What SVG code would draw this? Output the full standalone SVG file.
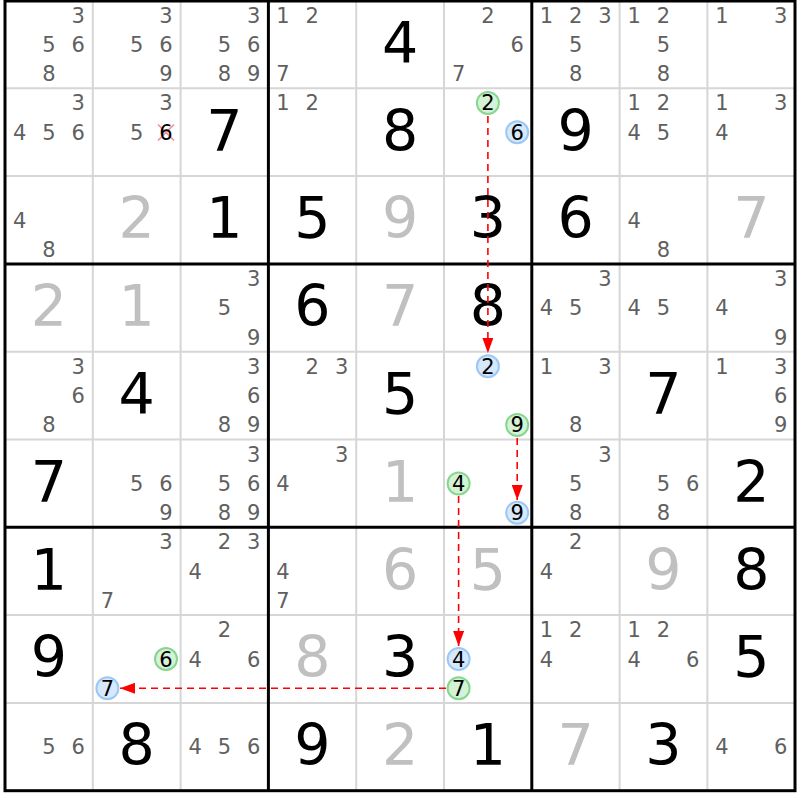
<svg xmlns="http://www.w3.org/2000/svg" width="800" height="800" viewBox="0 0 800 800">
<defs>
<style>
text{font-family:"DejaVu Sans","Liberation Sans",sans-serif;text-anchor:middle}
.c{font-size:21px;fill:#606060}
.g{font-size:57px;fill:#000}
.s{font-size:57px;fill:#c0c0c0}
.k{font-size:21px;fill:#000}
.thin{stroke:#d6d6d6;stroke-width:2}
.thick{stroke:#000;stroke-width:3}
.gc{fill:#d4f3d6;stroke:#86d690;stroke-width:2}
.bc{fill:#d6e8fb;stroke:#9cc8f3;stroke-width:2}
.lk{stroke:#ff0000;stroke-width:1.6;stroke-dasharray:7,5;fill:none}
.x{stroke:#f09090;stroke-width:1.6}
</style>
<marker id="ah" markerUnits="userSpaceOnUse" markerWidth="15" markerHeight="11" refX="15" refY="5.5" orient="auto">
<path d="M0,0 L15,5.5 L0,11 z" fill="#ff0000"/>
</marker>
</defs>
<rect width="800" height="800" fill="#fff"/>
<g id="grid">
<g class="thin">
<line x1="92.8" y1="0" x2="92.8" y2="791"/><line x1="180.6" y1="0" x2="180.6" y2="791"/>
<line x1="356.2" y1="0" x2="356.2" y2="791"/><line x1="444" y1="0" x2="444" y2="791"/>
<line x1="619.6" y1="0" x2="619.6" y2="791"/><line x1="707.4" y1="0" x2="707.4" y2="791"/>
<line x1="5" y1="88.3" x2="795" y2="88.3"/><line x1="5" y1="176.1" x2="795" y2="176.1"/>
<line x1="5" y1="351.7" x2="795" y2="351.7"/><line x1="5" y1="439.5" x2="795" y2="439.5"/>
<line x1="5" y1="615.1" x2="795" y2="615.1"/><line x1="5" y1="702.9" x2="795" y2="702.9"/>
</g>
<g class="thick">
<line x1="268.4" y1="0" x2="268.4" y2="791"/><line x1="531.8" y1="0" x2="531.8" y2="791"/>
<line x1="5" y1="263.9" x2="795" y2="263.9"/><line x1="5" y1="527.3" x2="795" y2="527.3"/>
<rect x="5" y="1" width="790" height="789.7" fill="none"/>
</g>
</g>
<g id="cells">
<g id="r1c1"><text class="c" x="78.2" y="22.6">3</text><text class="c" x="48.9" y="51.9">5</text><text class="c" x="78.2" y="51.9">6</text><text class="c" x="48.9" y="81.2">8</text></g>
<g id="r1c2"><text class="c" x="166" y="22.6">3</text><text class="c" x="136.7" y="51.9">5</text><text class="c" x="166" y="51.9">6</text><text class="c" x="166" y="81.2">9</text></g>
<g id="r1c3"><text class="c" x="253.8" y="22.6">3</text><text class="c" x="224.5" y="51.9">5</text><text class="c" x="253.8" y="51.9">6</text><text class="c" x="224.5" y="81.2">8</text><text class="c" x="253.8" y="81.2">9</text></g>
<g id="r1c4"><text class="c" x="283" y="22.6">1</text><text class="c" x="312.3" y="22.6">2</text><text class="c" x="283" y="81.2">7</text></g>
<g id="r1c5"><text class="g" x="400.1" y="62.8">4</text></g>
<g id="r1c6"><text class="c" x="487.9" y="22.6">2</text><text class="c" x="517.2" y="51.9">6</text><text class="c" x="458.6" y="81.2">7</text></g>
<g id="r1c7"><text class="c" x="546.4" y="22.6">1</text><text class="c" x="575.7" y="22.6">2</text><text class="c" x="605" y="22.6">3</text><text class="c" x="575.7" y="51.9">5</text><text class="c" x="575.7" y="81.2">8</text></g>
<g id="r1c8"><text class="c" x="634.2" y="22.6">1</text><text class="c" x="663.5" y="22.6">2</text><text class="c" x="663.5" y="51.9">5</text><text class="c" x="663.5" y="81.2">8</text></g>
<g id="r1c9"><text class="c" x="722" y="22.6">1</text><text class="c" x="780.6" y="22.6">3</text></g>

<g id="r2c1"><text class="c" x="78.2" y="110.4">3</text><text class="c" x="19.6" y="139.7">4</text><text class="c" x="48.9" y="139.7">5</text><text class="c" x="78.2" y="139.7">6</text></g>
<g id="r2c2"><text class="c" x="166" y="110.4">3</text><text class="c" x="136.7" y="139.7">5</text><line class="x" x1="158" y1="124.5" x2="174" y2="140.5"/><line class="x" x1="158" y1="140.5" x2="174" y2="124.5"/><text class="k" x="166" y="139.7">6</text></g>
<g id="r2c3"><text class="g" x="224.5" y="150.6">7</text></g>
<g id="r2c4"><text class="c" x="283" y="110.4">1</text><text class="c" x="312.3" y="110.4">2</text></g>
<g id="r2c5"><text class="g" x="400.1" y="150.6">8</text></g>
<g id="r2c6"><circle class="gc" cx="487.9" cy="102.9" r="11"/><text class="k" x="487.9" y="110.4">2</text><circle class="bc" cx="517.2" cy="132.2" r="11"/><text class="k" x="517.2" y="139.7">6</text></g>
<g id="r2c7"><text class="g" x="575.7" y="150.6">9</text></g>
<g id="r2c8"><text class="c" x="634.2" y="110.4">1</text><text class="c" x="663.5" y="110.4">2</text><text class="c" x="634.2" y="139.7">4</text><text class="c" x="663.5" y="139.7">5</text></g>
<g id="r2c9"><text class="c" x="722" y="110.4">1</text><text class="c" x="780.6" y="110.4">3</text><text class="c" x="722" y="139.7">4</text></g>

<g id="r3c1"><text class="c" x="19.6" y="227.5">4</text><text class="c" x="48.9" y="256.8">8</text></g>
<g id="r3c2"><text class="s" x="136.7" y="238.4">2</text></g>
<g id="r3c3"><text class="g" x="224.5" y="238.4">1</text></g>
<g id="r3c4"><text class="g" x="312.3" y="238.4">5</text></g>
<g id="r3c5"><text class="s" x="400.1" y="238.4">9</text></g>
<g id="r3c6"><text class="g" x="487.9" y="238.4">3</text></g>
<g id="r3c7"><text class="g" x="575.7" y="238.4">6</text></g>
<g id="r3c8"><text class="c" x="634.2" y="227.5">4</text><text class="c" x="663.5" y="256.8">8</text></g>
<g id="r3c9"><text class="s" x="751.3" y="238.4">7</text></g>

<g id="r4c1"><text class="s" x="48.9" y="326.2">2</text></g>
<g id="r4c2"><text class="s" x="136.7" y="326.2">1</text></g>
<g id="r4c3"><text class="c" x="253.8" y="286">3</text><text class="c" x="224.5" y="315.3">5</text><text class="c" x="253.8" y="344.6">9</text></g>
<g id="r4c4"><text class="g" x="312.3" y="326.2">6</text></g>
<g id="r4c5"><text class="s" x="400.1" y="326.2">7</text></g>
<g id="r4c6"><text class="g" x="487.9" y="326.2">8</text></g>
<g id="r4c7"><text class="c" x="605" y="286">3</text><text class="c" x="546.4" y="315.3">4</text><text class="c" x="575.7" y="315.3">5</text></g>
<g id="r4c8"><text class="c" x="634.2" y="315.3">4</text><text class="c" x="663.5" y="315.3">5</text></g>
<g id="r4c9"><text class="c" x="780.6" y="286">3</text><text class="c" x="722" y="315.3">4</text><text class="c" x="780.6" y="344.6">9</text></g>

<g id="r5c1"><text class="c" x="78.2" y="373.8">3</text><text class="c" x="78.2" y="403.1">6</text><text class="c" x="48.9" y="432.4">8</text></g>
<g id="r5c2"><text class="g" x="136.7" y="414">4</text></g>
<g id="r5c3"><text class="c" x="253.8" y="373.8">3</text><text class="c" x="253.8" y="403.1">6</text><text class="c" x="224.5" y="432.4">8</text><text class="c" x="253.8" y="432.4">9</text></g>
<g id="r5c4"><text class="c" x="312.3" y="373.8">2</text><text class="c" x="341.6" y="373.8">3</text></g>
<g id="r5c5"><text class="g" x="400.1" y="414">5</text></g>
<g id="r5c6"><circle class="bc" cx="487.9" cy="366.3" r="11"/><text class="k" x="487.9" y="373.8">2</text><circle class="gc" cx="517.2" cy="424.9" r="11"/><text class="k" x="517.2" y="432.4">9</text></g>
<g id="r5c7"><text class="c" x="546.4" y="373.8">1</text><text class="c" x="605" y="373.8">3</text><text class="c" x="575.7" y="432.4">8</text></g>
<g id="r5c8"><text class="g" x="663.5" y="414">7</text></g>
<g id="r5c9"><text class="c" x="722" y="373.8">1</text><text class="c" x="780.6" y="373.8">3</text><text class="c" x="780.6" y="403.1">6</text><text class="c" x="780.6" y="432.4">9</text></g>

<g id="r6c1"><text class="g" x="48.9" y="501.8">7</text></g>
<g id="r6c2"><text class="c" x="136.7" y="490.9">5</text><text class="c" x="166" y="490.9">6</text><text class="c" x="166" y="520.2">9</text></g>
<g id="r6c3"><text class="c" x="253.8" y="461.6">3</text><text class="c" x="224.5" y="490.9">5</text><text class="c" x="253.8" y="490.9">6</text><text class="c" x="224.5" y="520.2">8</text><text class="c" x="253.8" y="520.2">9</text></g>
<g id="r6c4"><text class="c" x="341.6" y="461.6">3</text><text class="c" x="283" y="490.9">4</text></g>
<g id="r6c5"><text class="s" x="400.1" y="501.8">1</text></g>
<g id="r6c6"><circle class="gc" cx="458.6" cy="483.4" r="11"/><text class="k" x="458.6" y="490.9">4</text><circle class="bc" cx="517.2" cy="512.7" r="11"/><text class="k" x="517.2" y="520.2">9</text></g>
<g id="r6c7"><text class="c" x="605" y="461.6">3</text><text class="c" x="575.7" y="490.9">5</text><text class="c" x="575.7" y="520.2">8</text></g>
<g id="r6c8"><text class="c" x="663.5" y="490.9">5</text><text class="c" x="692.8" y="490.9">6</text><text class="c" x="663.5" y="520.2">8</text></g>
<g id="r6c9"><text class="g" x="751.3" y="501.8">2</text></g>

<g id="r7c1"><text class="g" x="48.9" y="589.6">1</text></g>
<g id="r7c2"><text class="c" x="166" y="549.4">3</text><text class="c" x="107.4" y="608">7</text></g>
<g id="r7c3"><text class="c" x="224.5" y="549.4">2</text><text class="c" x="253.8" y="549.4">3</text><text class="c" x="195.2" y="578.7">4</text></g>
<g id="r7c4"><text class="c" x="283" y="578.7">4</text><text class="c" x="283" y="608">7</text></g>
<g id="r7c5"><text class="s" x="400.1" y="589.6">6</text></g>
<g id="r7c6"><text class="s" x="487.9" y="589.6">5</text></g>
<g id="r7c7"><text class="c" x="575.7" y="549.4">2</text><text class="c" x="546.4" y="578.7">4</text></g>
<g id="r7c8"><text class="s" x="663.5" y="589.6">9</text></g>
<g id="r7c9"><text class="g" x="751.3" y="589.6">8</text></g>

<g id="r8c1"><text class="g" x="48.9" y="677.4">9</text></g>
<g id="r8c2"><circle class="gc" cx="166" cy="659" r="11"/><text class="k" x="166" y="666.5">6</text><circle class="bc" cx="107.4" cy="688.3" r="11"/><text class="k" x="107.4" y="695.8">7</text></g>
<g id="r8c3"><text class="c" x="224.5" y="637.2">2</text><text class="c" x="195.2" y="666.5">4</text><text class="c" x="253.8" y="666.5">6</text></g>
<g id="r8c4"><text class="s" x="312.3" y="677.4">8</text></g>
<g id="r8c5"><text class="g" x="400.1" y="677.4">3</text></g>
<g id="r8c6"><circle class="bc" cx="458.6" cy="659" r="11"/><text class="k" x="458.6" y="666.5">4</text><circle class="gc" cx="458.6" cy="688.3" r="11"/><text class="k" x="458.6" y="695.8">7</text></g>
<g id="r8c7"><text class="c" x="546.4" y="637.2">1</text><text class="c" x="575.7" y="637.2">2</text><text class="c" x="546.4" y="666.5">4</text></g>
<g id="r8c8"><text class="c" x="634.2" y="637.2">1</text><text class="c" x="663.5" y="637.2">2</text><text class="c" x="634.2" y="666.5">4</text><text class="c" x="692.8" y="666.5">6</text></g>
<g id="r8c9"><text class="g" x="751.3" y="677.4">5</text></g>

<g id="r9c1"><text class="c" x="48.9" y="754.3">5</text><text class="c" x="78.2" y="754.3">6</text></g>
<g id="r9c2"><text class="g" x="136.7" y="765.2">8</text></g>
<g id="r9c3"><text class="c" x="195.2" y="754.3">4</text><text class="c" x="224.5" y="754.3">5</text><text class="c" x="253.8" y="754.3">6</text></g>
<g id="r9c4"><text class="g" x="312.3" y="765.2">9</text></g>
<g id="r9c5"><text class="s" x="400.1" y="765.2">2</text></g>
<g id="r9c6"><text class="g" x="487.9" y="765.2">1</text></g>
<g id="r9c7"><text class="s" x="575.7" y="765.2">7</text></g>
<g id="r9c8"><text class="g" x="663.5" y="765.2">3</text></g>
<g id="r9c9"><text class="c" x="722" y="754.3">4</text><text class="c" x="780.6" y="754.3">6</text></g>
</g>
<g id="links">
<line class="lk" x1="487.9" y1="116" x2="487.9" y2="353" marker-end="url(#ah)"/>
<line class="lk" x1="517.2" y1="438" x2="517.2" y2="500" marker-end="url(#ah)"/>
<line class="lk" x1="458.6" y1="496" x2="458.6" y2="646" marker-end="url(#ah)"/>
<line class="lk" x1="446" y1="688.3" x2="120" y2="688.3" marker-end="url(#ah)"/>
</g>
</svg>
